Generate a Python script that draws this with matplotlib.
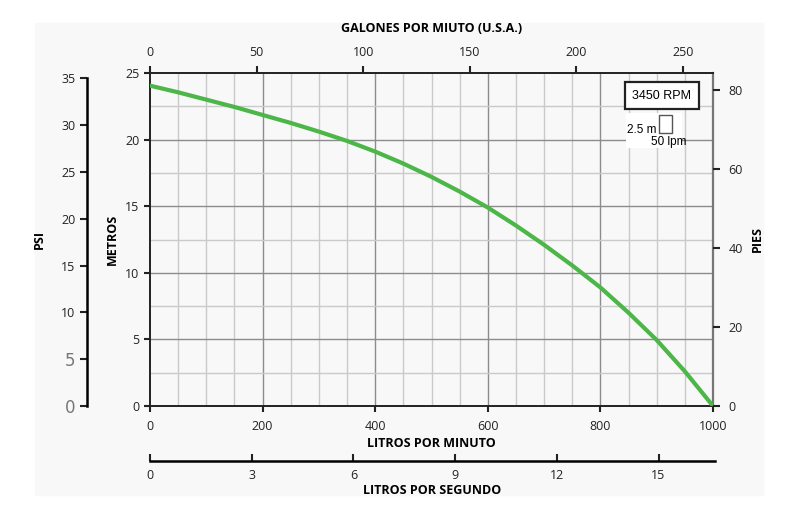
import numpy as np
import matplotlib.pyplot as plt
from matplotlib.patches import Rectangle

plt.rcParams['font.family'] = ['Open Sans', 'DejaVu Sans']

# curve: flow in litres/minute, head in metres
lpm = [0, 50, 100, 150, 200, 250, 300, 350, 400, 450, 500, 550,
       600, 650, 700, 750, 800, 850, 900, 950, 1000]
head_m = [24.05, 23.55, 23.0, 22.45, 21.85, 21.25, 20.6, 19.9, 19.1, 18.2, 17.2, 16.1,
          14.9, 13.55, 12.1, 10.55, 8.9, 7.0, 4.95, 2.6, 0.0]

lpm_ticks = [0, 200, 400, 600, 800, 1000]
m_ticks = [0, 5, 10, 15, 20, 25]
gpm_ticks = [0, 50, 100, 150, 200, 250]
lps_ticks = [0, 3, 6, 9, 12, 15]
psi_ticks = [0, 5, 10, 15, 20, 25, 30, 35]
ft_ticks = [0, 20, 40, 60, 80]

GAL = 3.78541
PSI_PER_M = 1.4223
green = '#4cb648'
bg = '#f8f8f8'
fs = 9
arial = ['Liberation Sans', 'DejaVu Sans']

fig = plt.figure(figsize=(8, 5.16), dpi=100)
fig.patches.append(Rectangle((35/800, 1-495/516), 728/800, 472/516,
                             transform=fig.transFigure, color=bg, zorder=-10))

W, H = 800, 516
def rect(x0, y0, x1, y1):
    return [x0/W, 1-y1/H, (x1-x0)/W, (y1-y0)/H]

ax = fig.add_axes(rect(150, 73, 713, 406))
ax.set_facecolor(bg)
ax.set_xlim(0, 1000)
ax.set_ylim(0, 25)
for v in np.arange(50, 1000, 50):
    ax.axvline(v, color='#8c8c8c' if v % 200 == 0 else '#cacaca', lw=1, zorder=1)
for v in np.arange(2.5, 25, 2.5):
    ax.axhline(v, color='#8c8c8c' if v % 5 == 0 else '#cacaca', lw=1, zorder=1)
ax.plot(lpm, head_m, color=green, lw=3, zorder=3, solid_capstyle='round',
        solid_joinstyle='round')
for s in ['left', 'bottom', 'top']:
    ax.spines[s].set_color('#222222')
    ax.spines[s].set_linewidth(1.4)
ax.spines['right'].set_color('#777777')
ax.spines['right'].set_linewidth(1.6)
ax.set_xticks(lpm_ticks)
ax.set_yticks(m_ticks)
ax.tick_params(labelsize=fs, length=4, width=1.5, colors='#222222')
ax.tick_params(axis='x', pad=6)
ax.set_xlabel('LITROS POR MINUTO', fontsize=fs, fontweight='bold', labelpad=3)
ax.set_ylabel('METROS', fontsize=fs, fontweight='bold', labelpad=5)

# top axis: US gallons per minute
top = ax.twiny()
top.set_xlim(0, 1000/GAL)
top.set_xticks(gpm_ticks)
top.tick_params(labelsize=fs, length=5, width=1.5, pad=5, colors='#222222')
top.set_xlabel('GALONES POR MIUTO (U.S.A.)', fontsize=fs, fontweight='bold', labelpad=10)
for s in top.spines.values():
    s.set_visible(False)

# right axis: feet
right = ax.twinx()
right.set_ylim(0, 84.3)
right.set_yticks(ft_ticks)
right.tick_params(labelsize=fs, length=5, width=1.5, pad=6, colors='#222222')
right.set_ylabel('PIES', fontsize=fs, fontweight='bold', labelpad=6)
for s in right.spines.values():
    s.set_visible(False)

# left axis: PSI
pax = fig.add_axes(rect(87, 73, 88, 406))
pax.set_ylim(0, 25*PSI_PER_M)
pax.patch.set_visible(False)
for s in ['right', 'top', 'bottom']:
    pax.spines[s].set_visible(False)
pax.spines['left'].set_linewidth(1.8)
pax.spines['left'].set_bounds(0, 35)
pax.set_xticks([])
pax.set_yticks(psi_ticks)
pax.tick_params(labelsize=fs, length=5, width=1.5, colors='#222222')
for t in pax.get_yticklabels()[:2]:
    t.set_color('#777777')
    t.set_fontsize(12)
    t.set_fontfamily(['DejaVu Sans'])
pax.set_ylabel('PSI', fontsize=fs, fontweight='bold', labelpad=11)

# bottom axis: litres per second
sax = fig.add_axes(rect(150, 460, 715, 461))
sax.set_xlim(0, 1000/60)
sax.patch.set_visible(False)
for s in ['left', 'right', 'top']:
    sax.spines[s].set_visible(False)
sax.spines['bottom'].set_linewidth(1.8)
sax.set_yticks([])
sax.set_xticks(lps_ticks)
sax.tick_params(axis='x', direction='in', labelsize=fs, length=5, width=1.5, pad=6,
                colors='#222222')
sax.set_xlabel('LITROS POR SEGUNDO', fontsize=fs, fontweight='bold', labelpad=1)

# speed box and grid scale key
ax.text(909, 23.3, '3450 RPM', fontsize=9, ha='center', va='center', family=arial,
        bbox=dict(boxstyle='square,pad=0.6', fc='white', ec='#222222', lw=1.6), zorder=5)
ax.add_patch(Rectangle((845, 19.4), 100, 2.6, fc='white', ec='none', zorder=4))
ax.add_patch(Rectangle((904, 20.5), 23, 1.35, fc='white', ec='#555555', lw=1, zorder=5))
ax.text(899, 20.7, '2.5 m', fontsize=8.5, ha='right', va='center', family=arial, zorder=6)
ax.text(922, 19.8, '50 lpm', fontsize=8.5, ha='center', va='center', family=arial, zorder=6)

fig.savefig('out.png', dpi=100)
